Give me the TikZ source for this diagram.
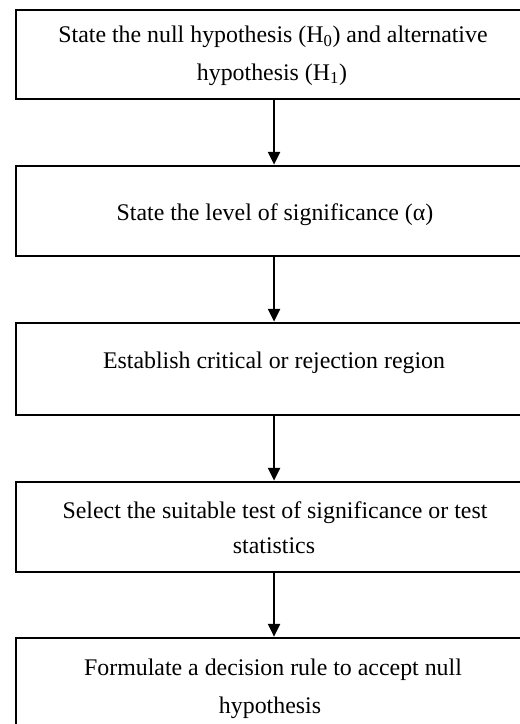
\documentclass[tikz,border=0pt]{standalone}
\usepackage{fontspec}
\setmainfont{Liberation Serif}
\usetikzlibrary{arrows.meta}
\tikzset{
  stepbox/.style={draw=black, line width=2.1pt, fill=none, inner sep=0pt, minimum width=387pt},
  txt/.style={anchor=base, inner sep=0pt, font=\fontsize{17.9}{21}\selectfont},
  flow/.style={draw=black, line width=1.5pt, -{Triangle[width=9pt,length=9.5pt]}}
}
\begin{document}
\begin{tikzpicture}[x=0.75pt,y=-0.75pt]
\useasboundingbox (0,0) rectangle (520,724);
\clip (0,0) rectangle (520,724);
\fill[white] (0,0) rectangle (520,724);
% boxes
\node[stepbox, minimum height=66.75pt] (b1) at (274,54.5) {};
\node[stepbox, minimum height=67.5pt] (b2) at (274,211) {};
\node[stepbox, minimum height=69pt] (b3) at (274,369) {};
\node[stepbox, minimum height=67.5pt] (b4) at (274,527) {};
\node[stepbox, minimum height=72pt] (b5) at (274,686) {};
% texts
\node[txt] (t1a) at (273,43) {State the null hypothesis (H\textsubscript{0}) and alternative};
\node[txt] (t1b) at (272,80) {hypothesis (H\textsubscript{1})};
\node[txt] (t2) at (275,220) {State the level of significance (α)};
\node[txt] (t3) at (274,368) {Establish critical or rejection region};
\node[txt] (t4a) at (275,518) {Select the suitable test of significance or test};
\node[txt] (t4b) at (274,553) {statistics};
\node[txt] (t5a) at (273,675) {Formulate a decision rule to accept null};
\node[txt] (t5b) at (270,713) {hypothesis};
% arrows
\draw[flow] (b1.south) -- (b2.north);
\draw[flow] (b2.south) -- (b3.north);
\draw[flow] (b3.south) -- (b4.north);
\draw[flow] (b4.south) -- (b5.north);
\end{tikzpicture}
\end{document}
